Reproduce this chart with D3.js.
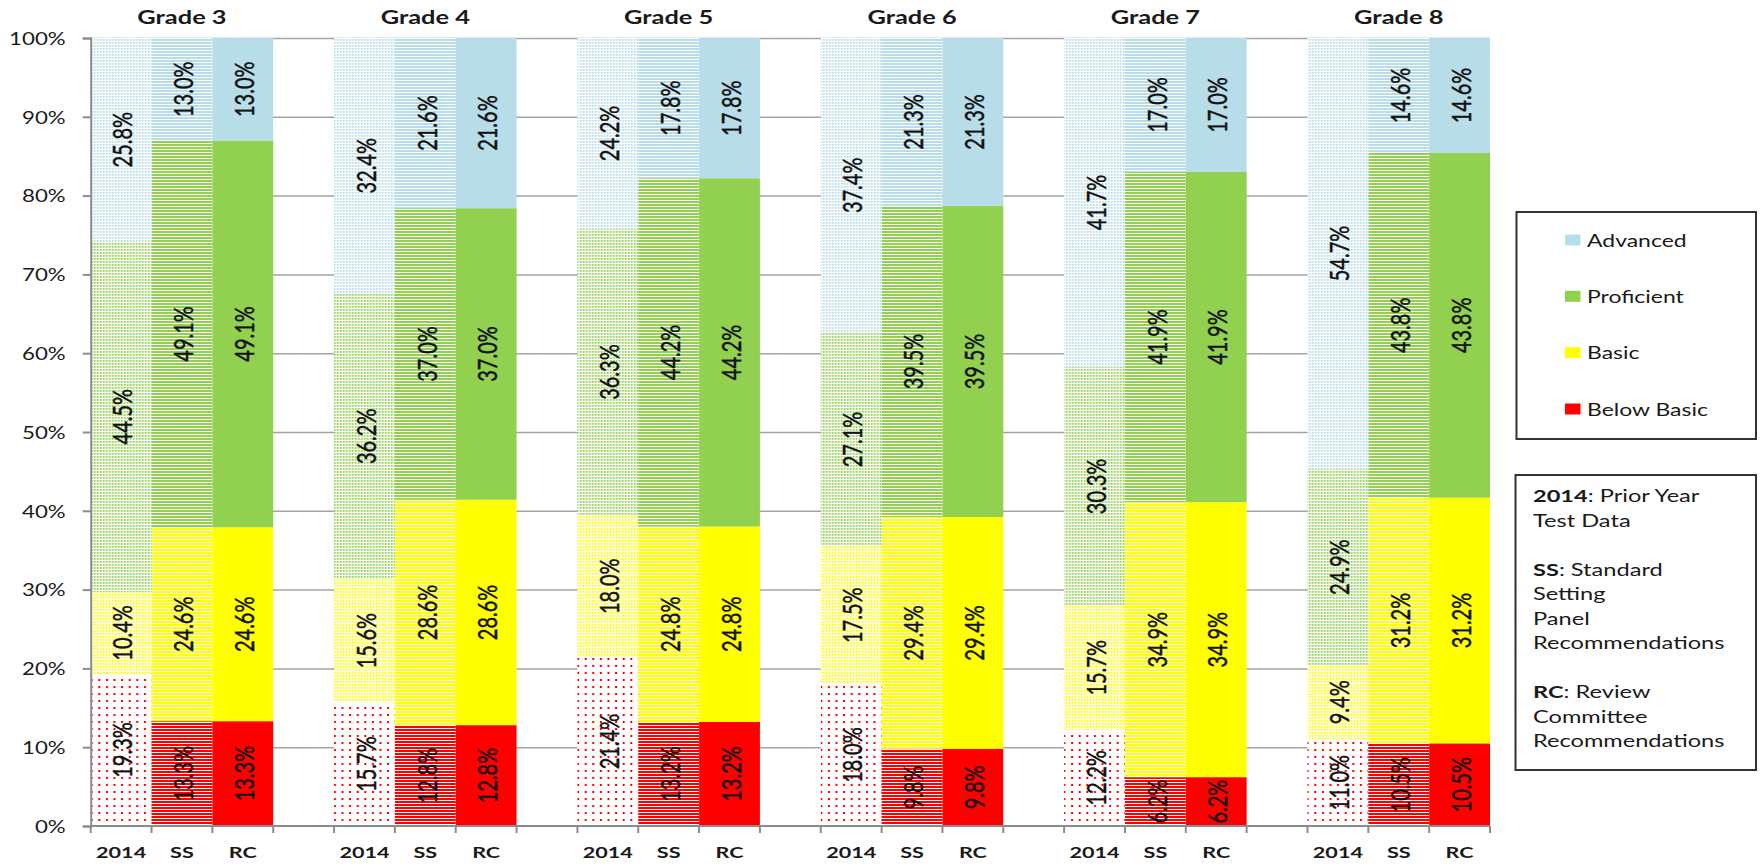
<!DOCTYPE html>
<meta charset="utf-8">
<style>
  body { margin: 0; background: #fff; }
  text { font-family: Lato, "Open Sans", sans-serif; fill: #1a1a1a; }
  .grid line { stroke: #a3a3a3; stroke-width: 1.5px; }
  .grid path { display: none; }
  .title { font-weight: bold; font-size: 18.8px; }
  .ytick { font-size: 16.5px; }
  .xtick { font-weight: bold; font-size: 16px; }
  .val { font-size: 20px; fill: #111; stroke: #111; stroke-width: 0.35px; }
  .legend-text { font-size: 17px; }
  .note { font-size: 17.5px; }
</style>
<script src="https://d3js.org/d3.v7.min.js"></script>
<div id="chart"></div>
<script>
// grade groups and the three bars in each group
const grades = ["Grade 3", "Grade 4", "Grade 5", "Grade 6", "Grade 7", "Grade 8"];
const sources = ["2014", "SS", "RC"];
const levels = ["Below Basic", "Basic", "Proficient", "Advanced"];
const yTicks = [0, 0.1, 0.2, 0.3, 0.4, 0.5, 0.6, 0.7, 0.8, 0.9, 1];

// 2014 prior year data (%)
const belowBasic2014 = [19.3, 15.7, 21.4, 18.0, 12.2, 11.0];
const basic2014      = [10.4, 15.6, 18.0, 17.5, 15.7, 9.4];
const proficient2014 = [44.5, 36.2, 36.3, 27.1, 30.3, 24.9];
const advanced2014   = [25.8, 32.4, 24.2, 37.4, 41.7, 54.7];
// standard setting panel
const belowBasicSS = [13.3, 12.8, 13.2, 9.8, 6.2, 10.5];
const basicSS      = [24.6, 28.6, 24.8, 29.4, 34.9, 31.2];
const proficientSS = [49.1, 37.0, 44.2, 39.5, 41.9, 43.8];
const advancedSS   = [13.0, 21.6, 17.8, 21.3, 17.0, 14.6];
// review committee
const belowBasicRC = [13.3, 12.8, 13.2, 9.8, 6.2, 10.5];
const basicRC      = [24.6, 28.6, 24.8, 29.4, 34.9, 31.2];
const proficientRC = [49.1, 37.0, 44.2, 39.5, 41.9, 43.8];
const advancedRC   = [13.0, 21.6, 17.8, 21.3, 17.0, 14.6];

const colors = {"Advanced": "#b7dde8", "Proficient": "#92d050", "Basic": "#ffff00", "Below Basic": "#ff0000"};

const noteLines = [
  ["2014", ": Prior Year"], ["", "Test Data"], null,
  ["SS", ": Standard"], ["", "Setting"], ["", "Panel"], ["", "Recommendations"], null,
  ["RC", ": Review"], ["", "Committee"], ["", "Recommendations"]
];

const width = 1761, height = 864;
const plot = {left: 90.7, right: 1490, top: 38, bottom: 826};
const SX = 1.35; // horizontal text stretch of the original rendering

const series = {
  "2014": [belowBasic2014, basic2014, proficient2014, advanced2014],
  "SS": [belowBasicSS, basicSS, proficientSS, advancedSS],
  "RC": [belowBasicRC, basicRC, proficientRC, advancedRC]
};

// one row per bar
const rows = [];
grades.forEach((g, gi) => {
  sources.forEach(s => {
    const r = {cat: gi + "-" + s, grade: gi, source: s};
    levels.forEach((l, li) => r[l] = series[s][li][gi]);
    rows.push(r);
  });
});

// categories incl. blank spacer after each group except the last
const cats = [];
grades.forEach((g, gi) => {
  sources.forEach(s => cats.push(gi + "-" + s));
  if (gi < grades.length - 1) cats.push(gi + "-gap");
});

const svg = d3.select("#chart").append("svg")
  .attr("width", width).attr("height", height);

const x = d3.scaleBand().domain(cats).range([plot.left, plot.right]).padding(0);
const y = d3.scaleLinear().domain([0, 1]).range([plot.bottom, plot.top]);

// patterns
const defs = svg.append("defs");
levels.forEach((l, li) => {
  const c = colors[l];
  // 2014: dotted
  const sparse = l === "Below Basic";
  const pw = sparse ? 7.6 : 3, ph = sparse ? 7 : 3;
  const p1 = defs.append("pattern").attr("id", "p2014-" + li)
    .attr("patternUnits", "userSpaceOnUse")
    .attr("x", plot.left).attr("y", 0)
    .attr("width", pw).attr("height", ph);
  p1.append("rect").attr("width", pw).attr("height", ph).attr("fill", "#fff");
  p1.append("rect").attr("width", sparse ? 2 : 1.8).attr("height", sparse ? 2 : 1.8).attr("fill", c);
  // SS: horizontal stripes
  const p2 = defs.append("pattern").attr("id", "pSS-" + li)
    .attr("patternUnits", "userSpaceOnUse")
    .attr("width", 10).attr("height", 3);
  p2.append("rect").attr("width", 10).attr("height", 3).attr("fill", "#fff");
  p2.append("rect").attr("width", 10).attr("height", 2).attr("fill", c);
});

function fillFor(source, li) {
  if (source === "RC") return colors[levels[li]];
  return "url(#p" + source + "-" + li + ")";
}

// gridlines
svg.append("g").attr("class", "grid")
  .attr("transform", `translate(${plot.left},0)`)
  .call(d3.axisLeft(y).tickValues(yTicks.slice(1)).tickSize(-(plot.right - plot.left)).tickFormat(""));

// stacked bars
const stack = d3.stack().keys(levels).offset(d3.stackOffsetExpand);
const stacked = stack(rows);

const layer = svg.append("g").selectAll("g")
  .data(stacked)
  .join("g");

layer.selectAll("rect")
  .data((d, i) => d.map(v => ({v, li: i, key: d.key})))
  .join("rect")
    .attr("x", d => x(d.v.data.cat))
    .attr("width", x.bandwidth())
    .attr("y", d => y(d.v[1]))
    .attr("height", d => y(d.v[0]) - y(d.v[1]))
    .attr("fill", d => fillFor(d.v.data.source, d.li));

// value labels
layer.selectAll("text")
  .data((d, i) => d.map(v => ({v, li: i, key: d.key})))
  .join("text")
    .attr("class", "val")
    .attr("text-anchor", "middle")
    .attr("dominant-baseline", "central")
    .attr("transform", d => {
      const cx = x(d.v.data.cat) + x.bandwidth() / 2 + 1;
      const cy = (y(d.v[0]) + y(d.v[1])) / 2;
      return `translate(${cx},${cy}) scale(${SX},1) rotate(-90)`;
    })
    .text(d => d.v.data[d.key].toFixed(1) + "%");

// y axis
const yAxis = svg.append("g")
  .attr("transform", `translate(${plot.left},0)`)
  .call(d3.axisLeft(y).tickValues(yTicks).tickSize(8).tickPadding(0).tickFormat(d3.format(".0%")));
yAxis.select(".domain").attr("stroke", "#8c8c8c").attr("stroke-width", 2);
yAxis.selectAll(".tick line").attr("stroke", "#8c8c8c").attr("stroke-width", 2);
yAxis.selectAll(".tick text")
  .attr("class", "ytick")
  .attr("x", null)
  .attr("dy", null)
  .attr("dominant-baseline", "central")
  .attr("text-anchor", "end")
  .attr("transform", `translate(-25,0) scale(${SX},1)`);

// x axis line and category boundary ticks
svg.append("line")
  .attr("x1", plot.left).attr("x2", plot.right)
  .attr("y1", plot.bottom).attr("y2", plot.bottom)
  .attr("stroke", "#8c8c8c").attr("stroke-width", 2);

const bounds = cats.map(c => x(c)).concat([plot.right]);
svg.append("g").selectAll("line")
  .data(bounds)
  .join("line")
    .attr("x1", d => d).attr("x2", d => d)
    .attr("y1", plot.bottom).attr("y2", plot.bottom + 7)
    .attr("stroke", "#8c8c8c").attr("stroke-width", 2);

svg.append("g").selectAll("text")
  .data(rows)
  .join("text")
    .attr("class", "xtick")
    .attr("text-anchor", "middle")
    .attr("transform", d => `translate(${x(d.cat) + x.bandwidth() / 2},858) scale(${SX},1)`)
    .text(d => d.source);

// grade titles
svg.append("g").selectAll("text")
  .data(grades)
  .join("text")
    .attr("class", "title")
    .attr("text-anchor", "middle")
    .attr("transform", (d, gi) => {
      const cx = (x(gi + "-2014") + x(gi + "-RC") + x.bandwidth()) / 2;
      return `translate(${cx},24) scale(${SX},1)`;
    })
    .text(d => d);

// legend
const legend = svg.append("g");
legend.append("rect")
  .attr("x", 1516.5).attr("y", 212).attr("width", 239.5).attr("height", 227)
  .attr("fill", "#fff").attr("stroke", "#333").attr("stroke-width", 2);

const legendItems = levels.slice().reverse();
const ly = d3.scalePoint().domain(legendItems).range([240, 409]);
const li = legend.selectAll("g.item")
  .data(legendItems)
  .join("g").attr("class", "item");
li.append("rect")
  .attr("x", 1565).attr("y", d => ly(d) - 5.5)
  .attr("width", 15.5).attr("height", 11)
  .attr("fill", d => colors[d]);
li.append("text")
  .attr("class", "legend-text")
  .attr("transform", d => `translate(1587,${ly(d) + 6.5}) scale(${SX},1)`)
  .text(d => d);

// explanation box
const note = svg.append("g");
note.append("rect")
  .attr("x", 1515.5).attr("y", 475).attr("width", 240.5).attr("height", 295)
  .attr("fill", "#fff").attr("stroke", "#333").attr("stroke-width", 2);

noteLines.forEach((ln, i) => {
  if (!ln) return;
  const t = note.append("text")
    .attr("class", "note")
    .attr("transform", `translate(1533,${502 + i * 24.5}) scale(${SX},1)`);
  if (ln[0]) t.append("tspan").style("font-weight", "bold").text(ln[0]);
  t.append("tspan").text(ln[1]);
});
</script>
